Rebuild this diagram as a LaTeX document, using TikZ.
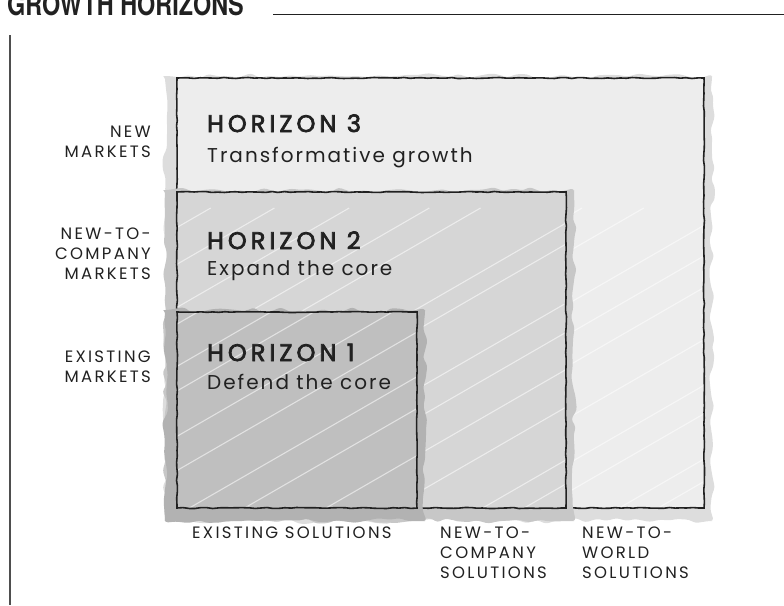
\documentclass[tikz,border=0pt]{standalone}
\usepackage{fontspec}
\usetikzlibrary{decorations.pathmorphing}
\setmainfont{Poppins}
\newfontfamily\headfont[FakeStretch=0.78]{TeX Gyre Heros}

\definecolor{ink}{gray}{0.13}
\definecolor{hthree}{gray}{0.93}
\definecolor{htwo}{gray}{0.84}
\definecolor{hone}{gray}{0.75}

\tikzset{
  axislabel/.style={font=\fontsize{16.5}{19.6}\selectfont\addfontfeature{LetterSpace=14}, text=ink, inner sep=0pt},
  horizon/.style={font=\fontsize{24}{28}\selectfont\addfontfeature{LetterSpace=17,FakeBold=3}, text=ink, inner sep=0pt, anchor=base west},
  tagline/.style={font=\fontsize{20}{24}\selectfont\addfontfeature{LetterSpace=10}, text=ink, inner sep=0pt, anchor=base west},
  sketchline/.style={ink, line width=1.6pt, decorate, decoration={random steps, segment length=6pt, amplitude=0.5pt}},
  scribble/.style={decorate, decoration={random steps, segment length=10pt, amplitude=3pt}, rounded corners=3pt},
}

% a hand-drawn box: corners (#1,#2) and (#3,#4), fill colour #5
\newcommand\sketchbox[5]{%
  \fill[#5!93!black, scribble] (#1-12,#2-2) rectangle (#3+8,#4+13);
  \fill[#5] (#1,#2) rectangle (#3,#4);
  \begin{scope}
    \clip (#1,#2) rectangle (#3,#4);
    \foreach \o in {0,70,...,1100}
      \draw[white, opacity=0.55, line width=1.1pt] (#1-500+\o+rnd*50,#4) -- ++(520,-300);
  \end{scope}
  \draw[sketchline] (#1,#2) rectangle (#3,#4);
}

\begin{document}
\begin{tikzpicture}[x=1pt, y=-1pt]
  \pgfmathsetseed{41}
  \useasboundingbox (0,0) rectangle (784,605);

  % heading and frame
  \node[font=\fontsize{30}{30}\selectfont\headfont\bfseries, text=ink, inner sep=0pt, anchor=base west] (title) at (7,16) {GROWTH HORIZONS};
  \draw[ink, line width=0.9pt] (273,14) -- (784,14);
  \draw[ink!80, line width=1.1pt] (10,35) -- (10,605);

  % three nested horizons
  \sketchbox{177}{78}{704}{508}{hthree}
  \sketchbox{177}{192}{566}{508}{htwo}
  \sketchbox{177}{312}{417}{508}{hone}

  \node[horizon] (h3) at (207,132) {HORIZON 3};
  \node[tagline] (h3text) at (207,162) {Transformative growth};
  \node[horizon] (h2) at (207,249) {HORIZON 2};
  \node[tagline] (h2text) at (207,275) {Expand the core};
  \node[horizon] (h1) at (207,361) {HORIZON 1};
  \node[tagline] (h1text) at (207,389) {Defend the core};

  % markets on the side
  \node[axislabel, align=right, anchor=north east] (mnew) at (151,126) {NEW\\MARKETS};
  \node[axislabel, align=right, anchor=north east] (mcomp) at (151,228) {NEW-TO-\\COMPANY\\MARKETS};
  \node[axislabel, align=right, anchor=north east] (mexist) at (151,351) {EXISTING\\MARKETS};

  % solutions along the bottom
  \node[axislabel, anchor=north west] (sexist) at (192,527) {EXISTING SOLUTIONS};
  \node[axislabel, align=left, anchor=north west] (scomp) at (440,527) {NEW-TO-\\COMPANY\\SOLUTIONS};
  \node[axislabel, align=left, anchor=north west] (sworld) at (582,527) {NEW-TO-\\WORLD\\SOLUTIONS};
\end{tikzpicture}
\end{document}
